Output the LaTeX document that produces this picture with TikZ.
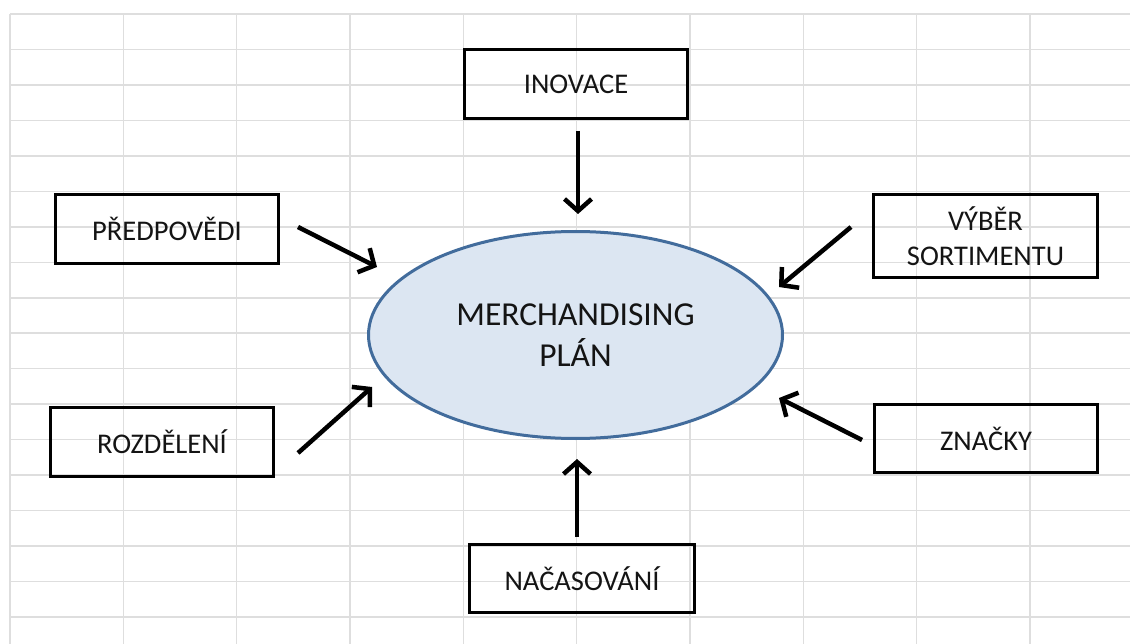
\documentclass[tikz,border=0pt]{standalone}
\usepackage{fontspec}
\setmainfont{Carlito}
\usetikzlibrary{arrows.meta,shapes.geometric}
\definecolor{gridc}{HTML}{DEDEDE}
\definecolor{ellfill}{HTML}{DCE6F2}
\definecolor{elldraw}{HTML}{426C9C}
\definecolor{txt}{HTML}{141414}
\begin{document}
\begin{tikzpicture}[x=1pt,y=-1pt,
  box/.style={draw=black,line width=3.2pt,inner sep=0pt,align=center,text=txt,
    font=\fontsize{28.5}{35}\selectfont,minimum width=223pt,minimum height=69pt},
  arr/.style={line width=4.5pt,-{Straight Barb[length=12pt,width=27pt]}},
  gridline/.style={draw=gridc,line width=1.5pt}]
\fill[white] (0,0) rectangle (1130,644);
\useasboundingbox (0,0) rectangle (1130,644);
% spreadsheet grid
\foreach \k in {0,...,9} {
  \draw[gridline] ({10+113.33*\k},14) -- ({10+113.33*\k},644);
}
\foreach \k in {0,...,17} {
  \draw[gridline] (10,{14+35.47*\k}) -- (1130,{14+35.47*\k});
}
% central ellipse
\node[ellipse,draw=elldraw,fill=ellfill,line width=3pt,inner sep=0pt,text=txt,
  minimum width=414pt,minimum height=207pt,align=center,
  font=\fontsize{33.5}{41}\selectfont] (plan) at (575.5,335) {MERCHANDISING\\PLÁN};
% boxes
\node[box] (inovace) at (576,84) {INOVACE};
\node[box] (predpovedi) at (167,229) {PŘEDPOVĚDI};
\node[box,minimum width=224pt,minimum height=83pt] (vyber) at (985.5,236) {VÝBĚR\\SORTIMENTU};
\node[box] (rozdeleni) at (162,442) {ROZDĚLENÍ};
\node[box,minimum height=68pt] (znacky) at (986,438.5) {ZNAČKY};
\node[box,minimum width=225pt,minimum height=68pt] (nacasovani) at (582,578.5) {NAČASOVÁNÍ};
% arrow end points
\coordinate (a1s) at (578,131); \coordinate (a1e) at (578,214);
\coordinate (a2s) at (298,227); \coordinate (a2e) at (377,267);
\coordinate (a3s) at (851,227); \coordinate (a3e) at (779,287);
\coordinate (a4s) at (298,453); \coordinate (a4e) at (372,387);
\coordinate (a5s) at (862,440); \coordinate (a5e) at (779,398);
\coordinate (a6s) at (577,537); \coordinate (a6e) at (577,459);
\draw[arr] (a1s) -- (a1e);
\draw[arr] (a2s) -- (a2e);
\draw[arr] (a3s) -- (a3e);
\draw[arr] (a4s) -- (a4e);
\draw[arr] (a5s) -- (a5e);
\draw[arr] (a6s) -- (a6e);
\end{tikzpicture}
\end{document}
